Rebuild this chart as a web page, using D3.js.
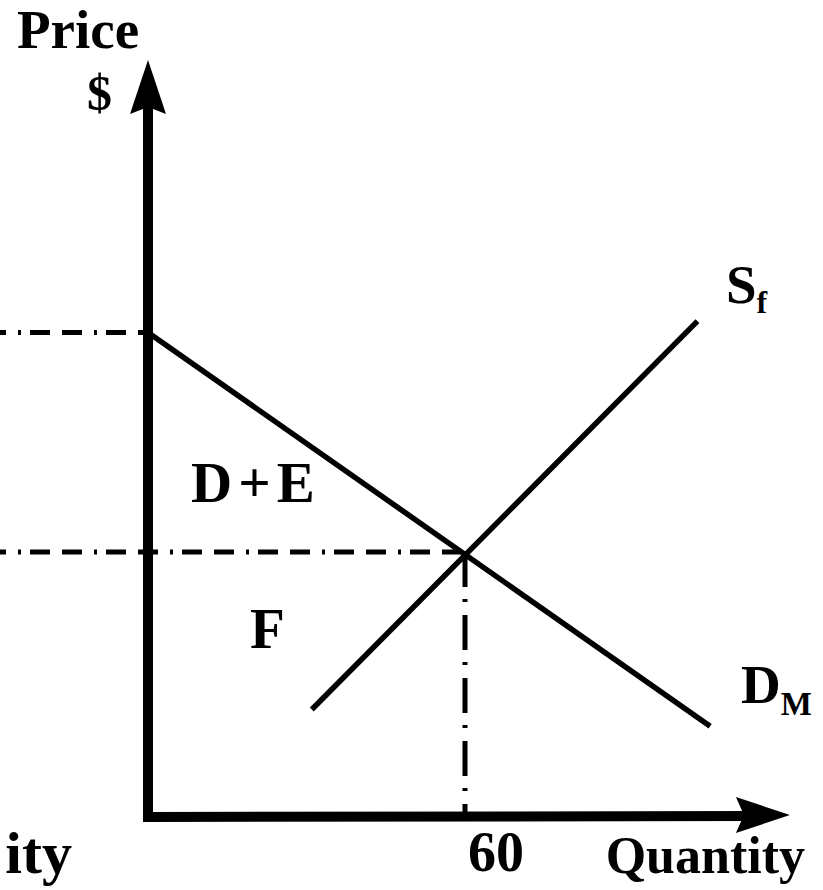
<!DOCTYPE html>
<html>
<head>
<meta charset="utf-8">
<script src="https://cdn.jsdelivr.net/npm/d3@7"></script>
<style>
  body { margin: 0; background: #fff; }
  svg { display: block; }
  .lbl { font-family: "Liberation Serif", "Times New Roman", serif; font-weight: bold; fill: #000; }
</style>
</head>
<body>
<svg id="chart"></svg>
<script>
// market for a good: foreign supply vs. domestic demand
const axisExtent = { q: 121.5, p: 10 };          // where the arrow tips sit
const demand = [[0, 6.4], [106.4, 1.2]];          // D_M
const supply = [[31, 1.42], [104, 6.55]];         // S_f
const equilibrium = { q: 60, p: 3.5 };
const priceLevels = [6.4, 3.5];                   // dash-dot guides to the price axis
const xTicks = [60];

const width = 823, height = 890;

const svg = d3.select('#chart')
    .attr('width', width)
    .attr('height', height);

svg.append('rect').attr('width', width).attr('height', height).attr('fill', '#fff');

const x = d3.scaleLinear().domain([0, 60]).range([148, 465]);
const y = d3.scaleLinear().domain([0, 10]).range([817, 60]);

const line = d3.line().x(d => x(d[0])).y(d => y(d[1]));

// guides (drawn first so axes sit on top)
svg.selectAll('.hguide')
    .data(priceLevels)
  .enter().append('line')
    .attr('class', 'hguide')
    .attr('x1', 0)
    .attr('x2', (d, i) => i === 0 ? x(0) : x(equilibrium.q))
    .attr('y1', d => y(d))
    .attr('y2', d => y(d))
    .attr('stroke', '#000')
    .attr('stroke-width', 5)
    .attr('stroke-dasharray', '20,12,20,12,3,9')
    .attr('stroke-dashoffset', 46);

svg.append('line')
    .attr('x1', x(equilibrium.q)).attr('x2', x(equilibrium.q))
    .attr('y1', y(equilibrium.p)).attr('y2', y(0))
    .attr('stroke', '#000')
    .attr('stroke-width', 5)
    .attr('stroke-dasharray', '35,12,3,13');

// curves
svg.append('path').datum(demand)
    .attr('d', line).attr('fill', 'none').attr('stroke', '#000').attr('stroke-width', 5.5);
svg.append('path').datum(supply)
    .attr('d', line).attr('fill', 'none').attr('stroke', '#000').attr('stroke-width', 5.5);

// axes with arrow heads
svg.append('path')
    .attr('d', d3.line()([[x(0), y(axisExtent.p) + 40], [x(0), y(0)], [x(axisExtent.q) - 40, y(0) - 1]]))
    .attr('fill', 'none').attr('stroke', '#000').attr('stroke-width', 10);

const tipY = [x(0), y(axisExtent.p)];
svg.append('path')
    .attr('d', d3.line()([[tipY[0], tipY[1]], [tipY[0] + 18, tipY[1] + 54], [tipY[0], tipY[1] + 47], [tipY[0] - 18, tipY[1] + 54]]) + 'Z')
    .attr('fill', '#000');

const tipX = [x(axisExtent.q), y(0) - 2];
svg.append('path')
    .attr('d', d3.line()([[tipX[0], tipX[1]], [tipX[0] - 54, tipX[1] - 18], [tipX[0] - 46, tipX[1]], [tipX[0] - 54, tipX[1] + 18]]) + 'Z')
    .attr('fill', '#000');

// labels
const txt = (s, px, py, size, anchor) => svg.append('text')
    .attr('class', 'lbl')
    .attr('x', px).attr('y', py)
    .attr('font-size', size)
    .attr('text-anchor', anchor || 'start')
    .text(s);

txt('Price', 17, 48, 55);
txt('$', 87, 110, 50);

svg.selectAll('.tick')
    .data(xTicks)
  .enter().append('text')
    .attr('class', 'lbl tick')
    .attr('x', d => x(d) + 31)
    .attr('y', 871)
    .attr('font-size', 56)
    .attr('text-anchor', 'middle')
    .text(d => d);

txt('Quantity', 805, 873, 52, 'end');
// tail of the neighbouring panel's axis title, cut by the crop
txt('ity', 72, 873, 60, 'end');

txt('D+E', 191, 502, 57).attr('letter-spacing', 6);
txt('F', 250, 648, 57);

const sf = txt('S', 726, 303, 55);
sf.append('tspan').attr('font-size', 32).attr('dy', 10).text('f');

const dm = txt('D', 741, 703, 55);
dm.append('tspan').attr('font-size', 33).attr('dy', 12).text('M');
</script>
</body>
</html>
